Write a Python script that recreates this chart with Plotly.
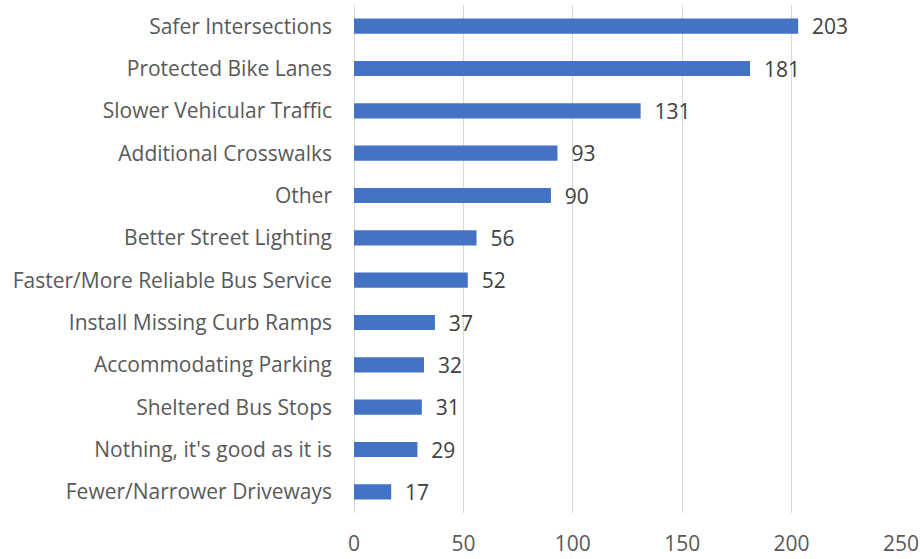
import plotly.graph_objects as go

categories = ["Safer Intersections", "Protected Bike Lanes", "Slower Vehicular Traffic",
              "Additional Crosswalks", "Other", "Better Street Lighting",
              "Faster/More Reliable Bus Service", "Install Missing Curb Ramps",
              "Accommodating Parking", "Sheltered Bus Stops",
              "Nothing, it's good as it is", "Fewer/Narrower Driveways"]
values = [203, 181, 131, 93, 90, 56, 52, 37, 32, 31, 29, 17]
x_ticks = [0, 50, 100, 150, 200, 250]

FONT = "Open Sans"
FS = 21

fig = go.Figure(go.Bar(
    y=categories, x=values, orientation="h",
    marker=dict(color="#4472C4", line=dict(width=0)),
    width=0.36,
    text=["  " + str(v) for v in values], textposition="outside",
    constraintext="none",
    textfont=dict(family=FONT, size=FS, color="#404040"),
    cliponaxis=False,
    hoverinfo="skip",
))

fig.update_layout(
    width=923, height=559,
    margin=dict(l=354, r=22, t=5, b=46, autoexpand=False),
    paper_bgcolor="white", plot_bgcolor="white",
    showlegend=False,
    font=dict(family=FONT, size=FS, color="#595959"),
)
fig.update_xaxes(
    range=[0, 250], tickvals=x_ticks, ticktext=[str(t) for t in x_ticks],
    showgrid=True, gridcolor="#d9d9d9", gridwidth=1.3,
    zeroline=True, zerolinecolor="#d9d9d9", zerolinewidth=1.3,
    showline=False, ticks="", ticklabelstandoff=16, automargin=False,
    tickfont=dict(family=FONT, size=FS, color="#595959"),
)
fig.update_yaxes(
    autorange="reversed", showgrid=False, showline=False, ticks="",
    ticklabelstandoff=21, automargin=False,
    tickfont=dict(family=FONT, size=FS, color="#595959"),
)

fig.write_html("out.html", config={"displayModeBar": False},
               post_script="document.body.style.margin='0';")
